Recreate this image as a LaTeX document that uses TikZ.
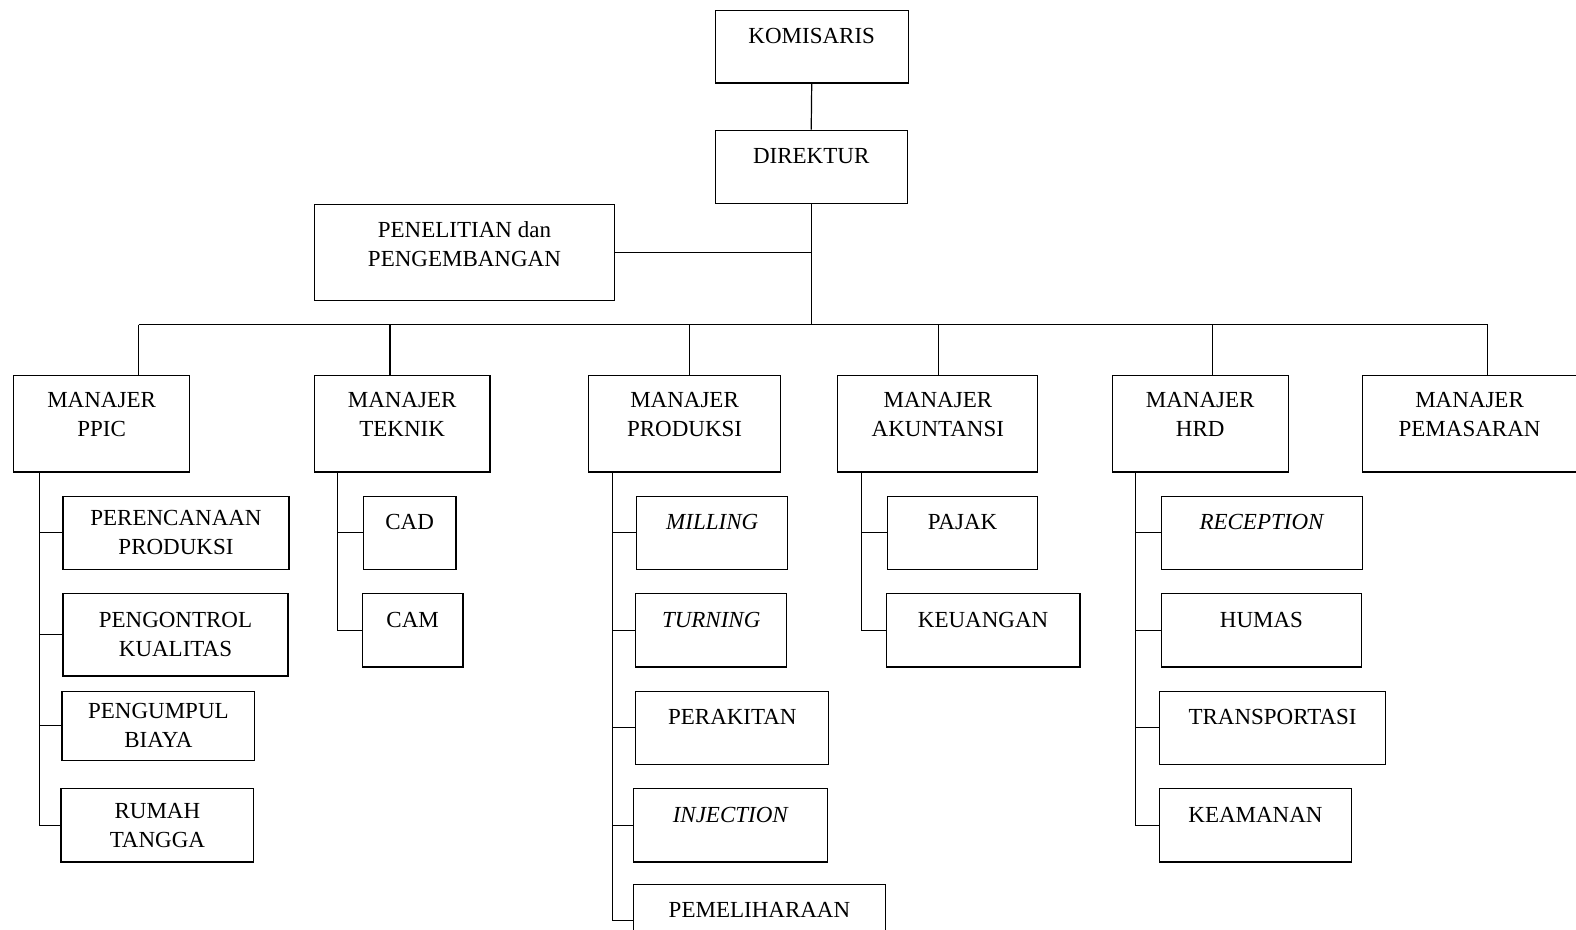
\documentclass[tikz,border=0pt]{standalone}
\usepackage{fontspec}
\setmainfont{Liberation Serif}
\usetikzlibrary{positioning}

\begin{document}
\begin{tikzpicture}[x=0.5025pt, y=-0.5025pt, line width=0.6pt,
  kotak/.style={draw, rectangle, inner sep=0pt, align=center, anchor=north west,
    font=\fontsize{11.5}{14.5}\selectfont},
  ukuran/.style 2 args={minimum width=#1*0.5025pt, minimum height=#2*0.5025pt},
  atas/.style={text depth=10.6pt},
  dualatas/.style={text depth=9.6pt}]
\clip (0,0) rectangle (1568,925);

% pimpinan
\node[kotak, atas, ukuran={192}{72}] (komisaris) at (711,10) {KOMISARIS};
\node[kotak, atas, ukuran={191}{73}] (direktur) at (711,129) {DIREKTUR};
\node[kotak, text depth=8pt, ukuran={299}{95}] (litbang) at (312,203) {PENELITIAN dan\\PENGEMBANGAN};

% manajer
\node[kotak, dualatas, ukuran={175}{96}] (ppic) at (13,373) {MANAJER\\PPIC};
\node[kotak, dualatas, ukuran={175}{96}] (teknik) at (312,373) {MANAJER\\TEKNIK};
\node[kotak, dualatas, ukuran={191}{96}] (produksi) at (585,373) {MANAJER\\PRODUKSI};
\node[kotak, dualatas, ukuran={199}{96}] (akuntansi) at (833,373) {MANAJER\\AKUNTANSI};
\node[kotak, dualatas, ukuran={175}{96}] (hrd) at (1106,373) {MANAJER\\HRD};
\node[kotak, dualatas, ukuran={213}{96}] (pemasaran) at (1355,373) {MANAJER\\PEMASARAN};

% bagian PPIC
\node[kotak, ukuran={225}{73}] (rencana) at (62,493) {PERENCANAAN\\PRODUKSI};
\node[kotak, ukuran={224}{82}] (kontrol) at (62,590) {PENGONTROL\\KUALITAS};
\node[kotak, ukuran={192}{69}] (biaya) at (61,687) {PENGUMPUL\\BIAYA};
\node[kotak, ukuran={192}{73}] (rumah) at (60,784) {RUMAH\\TANGGA};

% bagian teknik
\node[kotak, atas, ukuran={92}{73}] (cad) at (361,493) {CAD};
\node[kotak, atas, ukuran={100}{73}] (cam) at (360,590) {CAM};

% bagian produksi
\node[kotak, atas, ukuran={150}{73}] (milling) at (633,493) {\textit{MILLING}};
\node[kotak, atas, ukuran={150}{73}] (turning) at (632,590) {\textit{TURNING}};
\node[kotak, atas, ukuran={192}{73}] (rakit) at (632,687) {PERAKITAN};
\node[kotak, atas, ukuran={193}{73}] (injection) at (630,784) {\textit{INJECTION}};
\node[kotak, atas, ukuran={250}{73}] (pelihara) at (630,879) {PEMELIHARAAN};

% bagian akuntansi
\node[kotak, atas, ukuran={150}{73}] (pajak) at (882,493) {PAJAK};
\node[kotak, atas, ukuran={193}{73}] (uang) at (881,590) {KEUANGAN};

% bagian HRD
\node[kotak, atas, ukuran={200}{73}] (reception) at (1155,493) {\textit{RECEPTION}};
\node[kotak, atas, ukuran={199}{73}] (humas) at (1155,590) {HUMAS};
\node[kotak, atas, ukuran={225}{73}] (transport) at (1153,687) {TRANSPORTASI};
\node[kotak, atas, ukuran={191}{73}] (aman) at (1153,784) {KEAMANAN};

% garis atas
\coordinate (bus) at (810,323);
\draw (komisaris.south) -- (direktur.north);
\draw (direktur.south) -- (direktur.south |- bus);
\draw (litbang.east) -- (litbang.east -| direktur.south);
\draw (138,323) -- (1480,323);
\foreach \x/\n in {138/ppic, 388/teknik, 686/produksi, 934/akuntansi, 1206/hrd, 1480/pemasaran}
  \draw (\x,323) -- (\x,323 |- \n.north);

% garis bagian
\coordinate (s1) at (39,469);
\coordinate (s2) at (336,469);
\coordinate (s3) at (609,469);
\coordinate (s4) at (857,469);
\coordinate (s5) at (1130,469);
\draw (s1) |- (rumah.west);
\foreach \n in {rencana, kontrol, biaya} \draw (s1 |- \n.west) -- (\n.west);
\draw (s2) |- (cam.west);
\draw (s2 |- cad.west) -- (cad.west);
\draw (s3) |- (pelihara.west);
\foreach \n in {milling, turning, rakit, injection} \draw (s3 |- \n.west) -- (\n.west);
\draw (s4) |- (uang.west);
\draw (s4 |- pajak.west) -- (pajak.west);
\draw (s5) |- (aman.west);
\foreach \n in {reception, humas, transport} \draw (s5 |- \n.west) -- (\n.west);
\end{tikzpicture}
\end{document}
